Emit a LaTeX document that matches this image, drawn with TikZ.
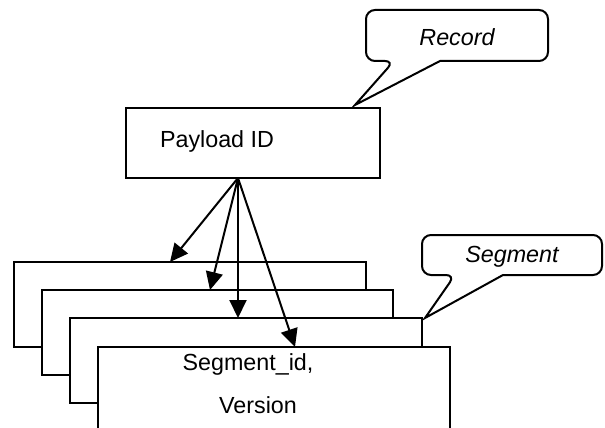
\documentclass[tikz,border=0pt]{standalone}
\usepackage{fontspec}
\setmainfont{Liberation Sans}
\usetikzlibrary{arrows.meta,calc}
\begin{document}
\begin{tikzpicture}[x=1pt,y=-1pt,line width=2pt,
  segbox/.style={draw,fill=white,minimum width=352pt,minimum height=85pt,anchor=north west,inner sep=0pt,outer sep=0pt},
  conn/.style={-{Triangle[length=18pt,width=17pt]},line width=2pt},
  txt/.style={font=\fontsize{23.3}{28}\selectfont,inner sep=0pt},
  itxt/.style={font=\fontsize{23.3}{28}\selectfont\itshape,inner sep=0pt},
  callout/.style={draw,fill=white,line width=2pt}]
\useasboundingbox (0,0) rectangle (605,428);
% payload
\node[draw,minimum width=254pt,minimum height=70pt,anchor=north west,inner sep=0pt,outer sep=0pt] (payload) at (126,108) {};
\node[txt] (ptext) at (217,141) {Payload ID};
% segment stack
\node[segbox] (b1) at (14,262) {};
\node[segbox,minimum width=351pt] (b2) at (42,290) {};
\node[segbox] (b3) at (70,318) {};
\node[segbox,minimum height=90pt] (b4) at (98,347) {};
\node[txt] (sid) at (248,364) {Segment\_id,};
\node[txt] (ver) at (258,405) {Version};
% connectors
\coordinate (src) at ([xshift=-15pt]payload.south);
\draw[conn] (src) -- ([xshift=156pt]b1.north west);
\draw[conn] (src) -- ([xshift=168pt]b2.north west);
\draw[conn] (src) -- ([xshift=168pt]b3.north west);
\draw[conn] (src) -- ([xshift=197pt]b4.north west);
% callouts
\draw[callout] (394,61) -- ([xshift=-25pt,yshift=3pt]payload.north east) -- (440,61) [rounded corners=9pt] -- (548,61) -- (548,10) -- (366,10) -- (366,61) -- cycle;
\node[itxt] (rec) at (457,37) {Record};
\draw[callout] (455,275) -- ([xshift=3pt]b3.north east) -- (503,275) [rounded corners=9pt] -- (602,275) -- (602,235) -- (422,235) -- (422,275) -- cycle;
\node[itxt] (seg) at (512,257) {Segment};
\end{tikzpicture}
\end{document}
